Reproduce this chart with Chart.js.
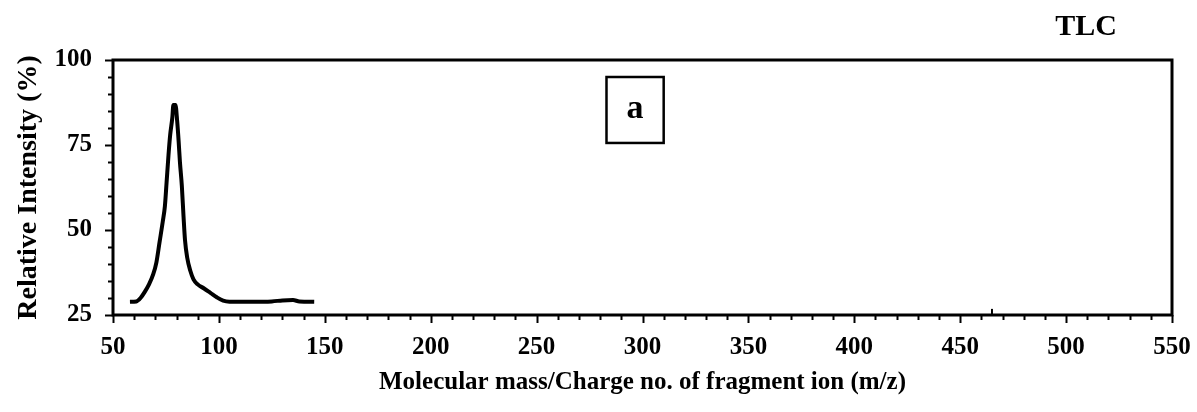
<!DOCTYPE html>
<html>
<head>
<meta charset="utf-8">
<title>TLC mass spectrum</title>
<script src="https://cdn.jsdelivr.net/npm/chart.js@4.4.1/dist/chart.umd.min.js"></script>
<style>
    html, body { margin: 0; padding: 0; background: #fff; }
    #wrap { width: 1197px; height: 412px; position: relative; }
</style>
</head>
<body>
<div id="wrap"><canvas id="spectrumChart"></canvas></div>
<script>
// m/z values and relative intensity of the traced spectrum
const mzValues = [
    58, 61, 63, 65, 67, 69, 70.5, 72, 73.5, 74.5, 75.3, 76.2, 77, 78, 78.5,
    79.5, 80.3, 81, 81.6, 82.5, 83.3, 84, 85, 86.5, 88, 90, 93, 96, 99, 102,
    105, 115, 125, 130, 135, 138, 145
];
const intensityValues = [
    28.9, 29.0, 30.0, 31.8, 34.0, 37.0, 40.5, 46.5, 52.5, 57.0, 64.0, 72.0, 78.0, 83.0, 86.8,
    86.8, 82.0, 76.0, 70.0, 63.0, 54.0, 47.0, 42.0, 38.0, 35.5, 34.0, 32.8, 31.5, 30.2, 29.2,
    28.9, 28.9, 29.0, 29.3, 29.4, 29.0, 28.9
];

// small isolated spike further along the axis
const spikeMz = [465, 465];
const spikeIntensity = [25, 26.8];

// axis ranges and labels
const xRange = [50, 550];
const xStep = 50;
const xMinorStep = 10;
const yRange = [25, 100];
const yStep = 25;
const yMinorStep = 5;

const xTitle = 'Molecular mass/Charge no. of fragment ion (m/z)';
const yTitle = 'Relative Intensity (%)';
const panelLabel = 'a';
const cornerLabel = 'TLC';

const serif = '"Liberation Serif", "Times New Roman", serif';

document.addEventListener('DOMContentLoaded', function() {
    const toPoints = (xs, ys) => xs.map((x, i) => ({ x: x, y: ys[i] }));

    // frame, outward tick marks and the text annotations
    const framePlugin = {
        id: 'frame',
        afterDraw(chart) {
            const { ctx, chartArea: area, scales: { x, y } } = chart;
            ctx.save();
            ctx.strokeStyle = '#000';

            // x ticks below the axis
            ctx.lineWidth = 2;
            for (let v = xRange[0]; v <= xRange[1]; v += xMinorStep) {
                const px = Math.round(x.getPixelForValue(v)) + 0.5;
                const len = v % xStep === 0 ? 8 : 5;
                ctx.beginPath();
                ctx.moveTo(px, area.bottom);
                ctx.lineTo(px, area.bottom + len);
                ctx.stroke();
            }
            // y ticks left of the axis
            for (let v = yRange[0]; v <= yRange[1]; v += yMinorStep) {
                const py = Math.round(y.getPixelForValue(v)) + 0.5;
                const len = v % yStep === 0 ? 8 : 5;
                ctx.beginPath();
                ctx.moveTo(area.left, py);
                ctx.lineTo(area.left - len, py);
                ctx.stroke();
            }

            // plot frame
            ctx.lineWidth = 3;
            ctx.strokeRect(area.left, area.top, area.right - area.left, area.bottom - area.top);

            // boxed panel letter
            const bx = x.getPixelForValue(283);
            const bw = x.getPixelForValue(310) - bx;
            const by = y.getPixelForValue(95);
            const bh = y.getPixelForValue(75.6) - by;
            ctx.lineWidth = 2.5;
            ctx.strokeRect(bx, by, bw, bh);
            ctx.fillStyle = '#000';
            ctx.font = 'bold 34px ' + serif;
            ctx.textAlign = 'center';
            ctx.textBaseline = 'middle';
            ctx.fillText(panelLabel, bx + bw / 2, by + bh / 2 - 1);

            // label in the top right corner
            ctx.font = 'bold 30px ' + serif;
            ctx.fillText(cornerLabel, 1086, 27);
            ctx.restore();
        }
    };

    new Chart(document.getElementById('spectrumChart'), {
        type: 'line',
        data: {
            datasets: [
                {
                    label: 'TLC',
                    data: toPoints(mzValues, intensityValues),
                    borderColor: '#000',
                    borderWidth: 4,
                    pointRadius: 0,
                    cubicInterpolationMode: 'monotone',
                    fill: false
                },
                {
                    label: 'spike',
                    data: toPoints(spikeMz, spikeIntensity),
                    borderColor: '#000',
                    borderWidth: 2,
                    pointRadius: 0,
                    fill: false
                }
            ]
        },
        options: {
            responsive: true,
            maintainAspectRatio: false,
            animation: false,
            layout: { padding: { left: 0, top: 60, right: 25, bottom: 0 } },
            plugins: {
                legend: { display: false },
                tooltip: { enabled: false }
            },
            scales: {
                x: {
                    type: 'linear',
                    min: xRange[0],
                    max: xRange[1],
                    border: { display: false },
                    grid: { display: false, drawTicks: false },
                    ticks: {
                        stepSize: xStep,
                        padding: 18,
                        color: '#000',
                        maxRotation: 0,
                        font: { family: serif, size: 25, weight: 'bold' }
                    },
                    title: {
                        display: true,
                        text: xTitle,
                        color: '#000',
                        padding: { top: 0, bottom: 14 },
                        font: { family: serif, size: 25, weight: 'bold' }
                    },
                    // fixed height, and let the end labels hang into the page margin
                    afterFit: scale => {
                        scale.height = 97;
                        scale.paddingLeft = 0;
                        scale.paddingRight = 0;
                    }
                },
                y: {
                    min: yRange[0],
                    max: yRange[1],
                    border: { display: false },
                    grid: { display: false, drawTicks: false },
                    ticks: {
                        stepSize: yStep,
                        padding: 21,
                        color: '#000',
                        font: { family: serif, size: 25, weight: 'bold' }
                    },
                    title: {
                        display: true,
                        text: yTitle,
                        color: '#000',
                        padding: { top: 12, bottom: 0 },
                        font: { family: serif, size: 28, weight: 'bold' }
                    },
                    afterFit: scale => { scale.width = 113; }
                }
            }
        },
        plugins: [framePlugin]
    });
});
</script>
</body>
</html>
